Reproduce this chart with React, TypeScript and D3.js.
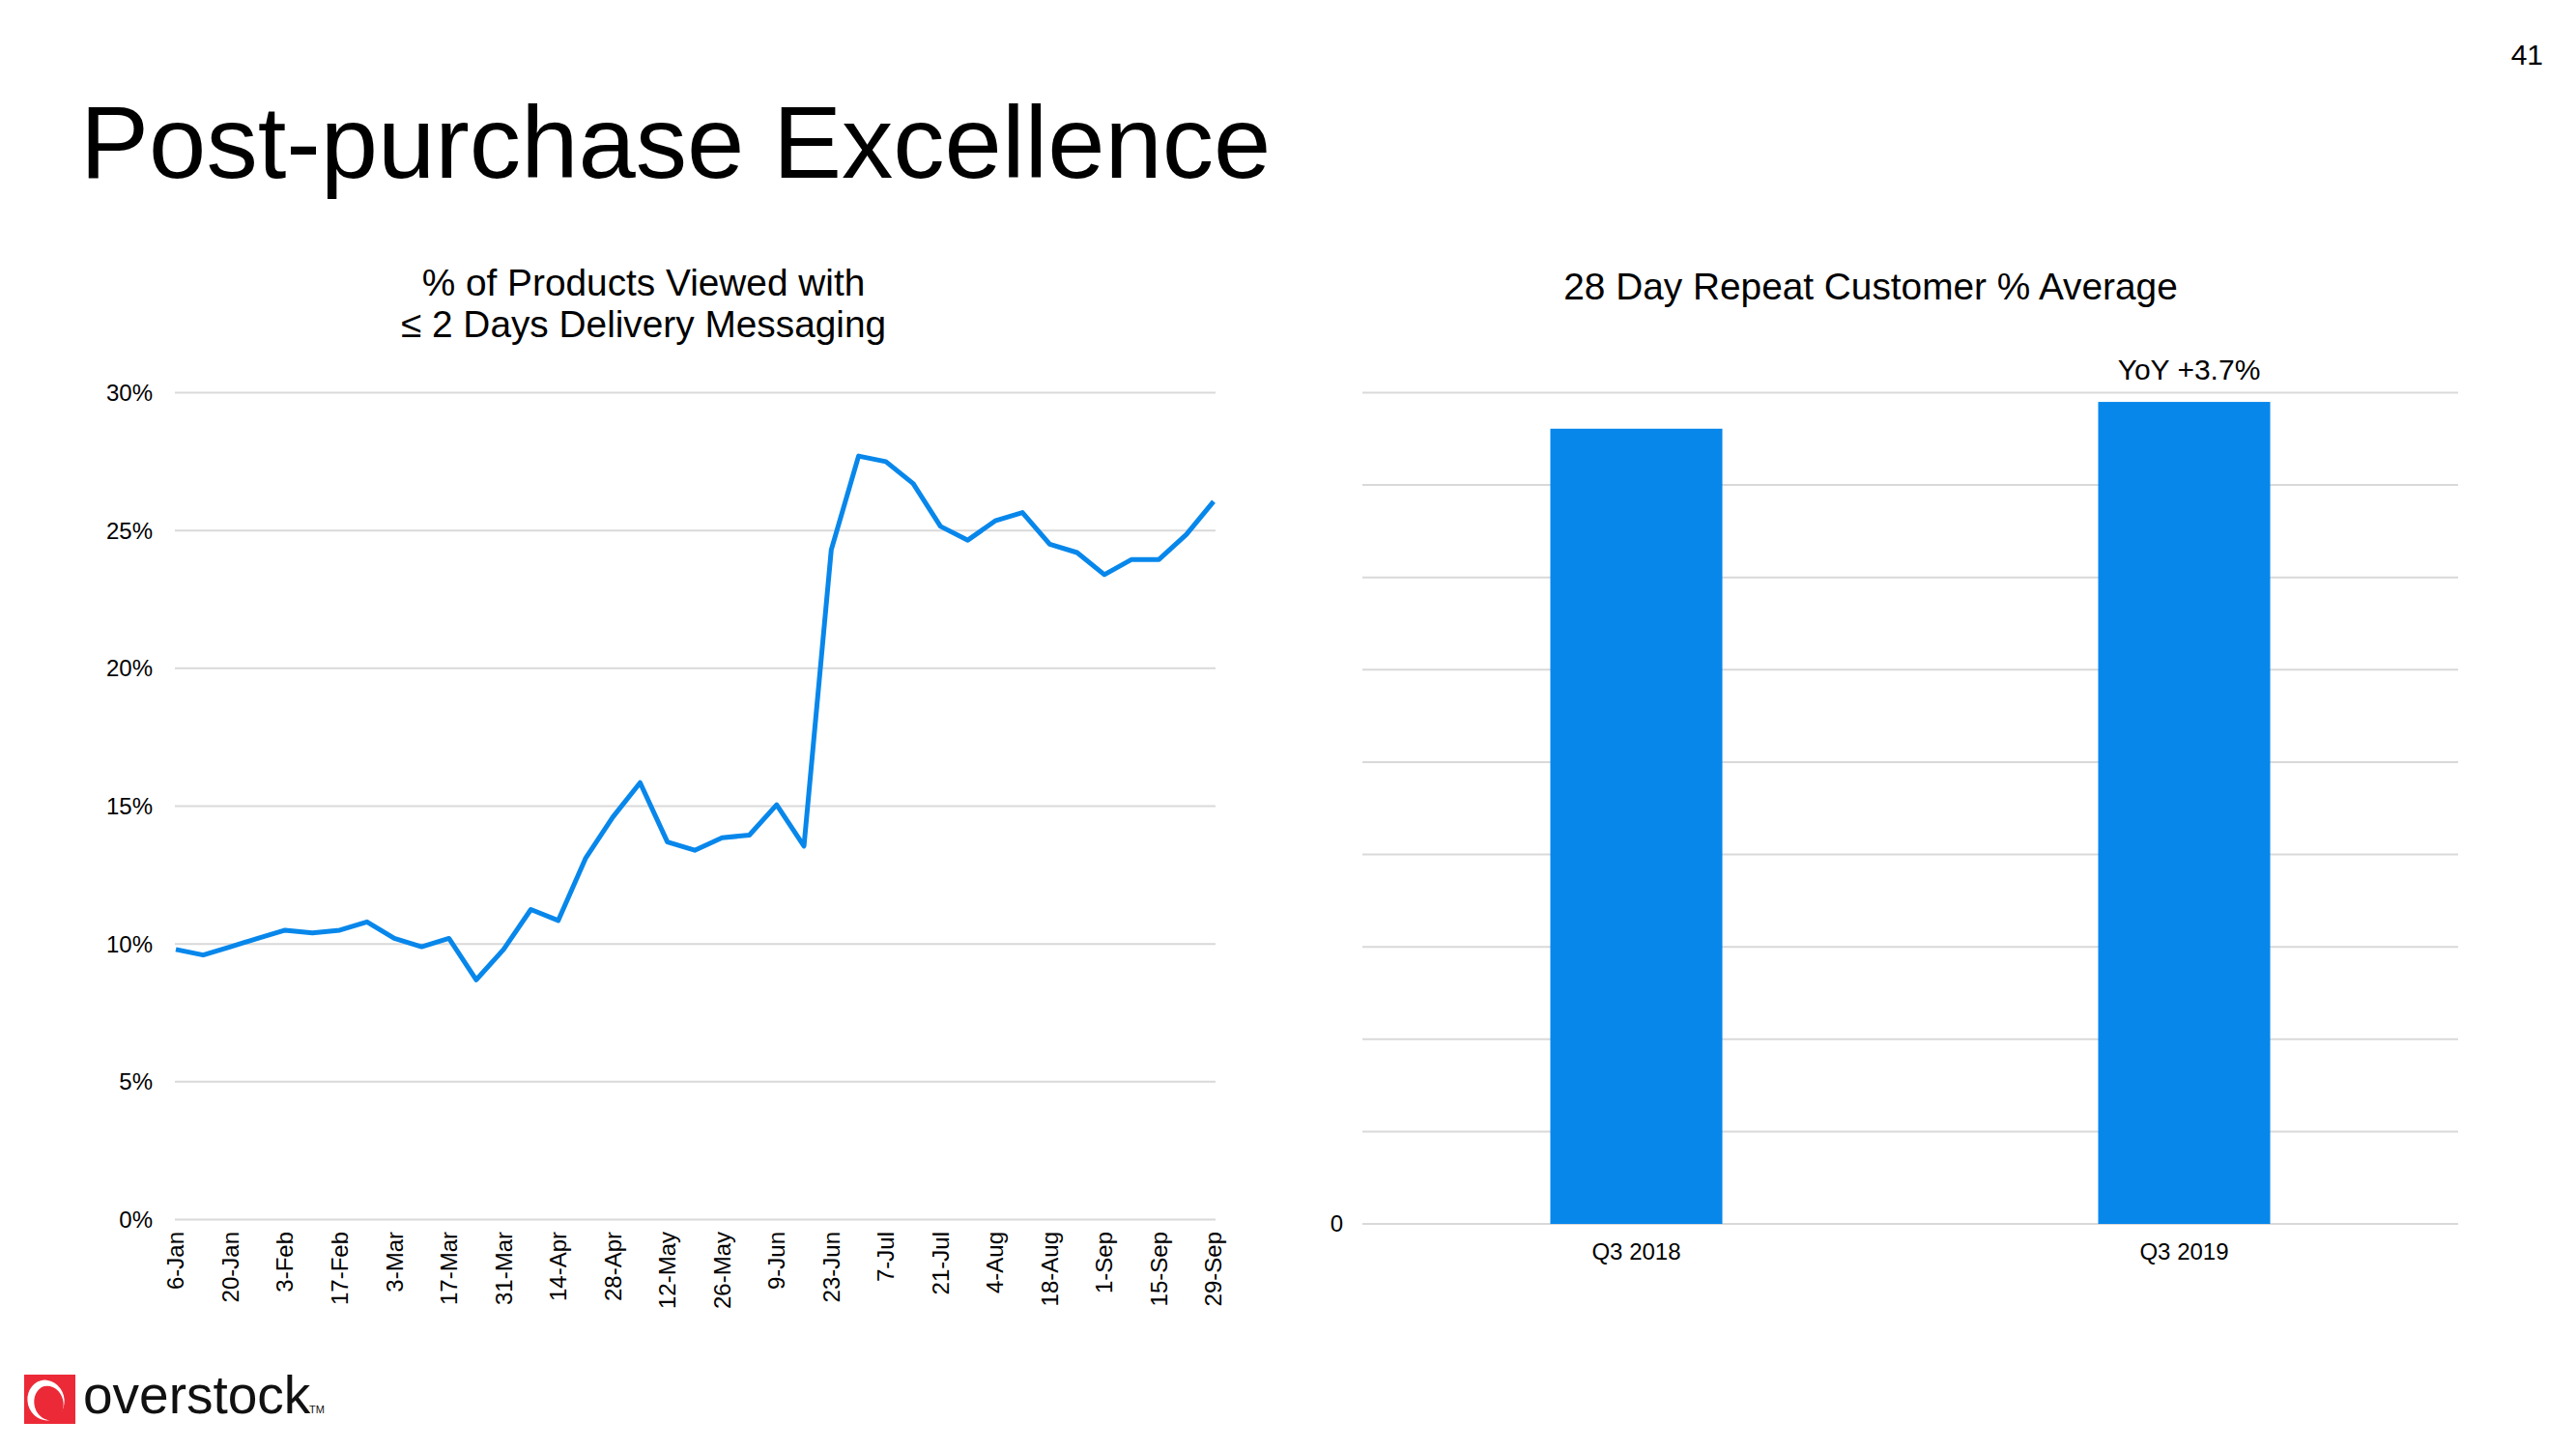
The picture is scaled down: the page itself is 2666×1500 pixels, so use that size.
import React from "react";
import * as d3 from "d3";

// weekly series, % of products viewed with <= 2 days delivery messaging
const weekLabels = [
  "6-Jan", "13-Jan", "20-Jan", "27-Jan",
  "3-Feb", "10-Feb", "17-Feb", "24-Feb",
  "3-Mar", "10-Mar", "17-Mar", "24-Mar", "31-Mar",
  "7-Apr", "14-Apr", "21-Apr", "28-Apr",
  "5-May", "12-May", "19-May", "26-May",
  "2-Jun", "9-Jun", "16-Jun", "23-Jun", "30-Jun",
  "7-Jul", "14-Jul", "21-Jul", "28-Jul",
  "4-Aug", "11-Aug", "18-Aug", "25-Aug",
  "1-Sep", "8-Sep", "15-Sep", "22-Sep", "29-Sep",
];

const deliveryPct = [
  9.8, 9.6, 9.9, 10.2, 10.5, 10.4, 10.5, 10.8, 10.2, 9.9,
  10.2, 8.7, 9.8, 11.25, 10.85, 13.1, 14.6, 15.85, 13.7, 13.4,
  13.85, 13.95, 15.05, 13.55, 24.3, 27.7, 27.5, 26.7, 25.15, 24.65,
  25.35, 25.65, 24.5, 24.2, 23.4, 23.95, 23.95, 24.85, 26.05,
];

// only every second week gets a tick label
const tickLabels = weekLabels.filter((_, i) => i % 2 === 0);
const pctTicks = [0, 5, 10, 15, 20, 25, 30];

// repeat customer bars (axis units hidden in the original, only "0" shown)
const quarters = ["Q3 2018", "Q3 2019"];
const repeatAvg = [8.61, 8.9];
const repeatTicks = [0, 1, 2, 3, 4, 5, 6, 7, 8, 9];
const yoyNote = "YoY +3.7%";

const FONT = "'Liberation Sans', Arial, Helvetica, sans-serif";
const BLUE = "#0887eb";
const GRID = "#d9d9d9";
const RED = "#ec2a37";

const LineChart: React.FC = () => {
  const x = d3
    .scalePoint<string>()
    .domain(weekLabels)
    .range([182, 1256]);
  const y = d3.scaleLinear().domain([0, 30]).range([1262.5, 406.5]);

  const line = d3
    .line<number>()
    .x((_, i) => x(weekLabels[i]) ?? 0)
    .y((d) => y(d));

  return (
    <g>
      <text x={666} y={306} fontSize={38.8} textAnchor="middle">
        % of Products Viewed with
      </text>
      <text x={666} y={349} fontSize={38.8} textAnchor="middle">
        ≤ 2 Days Delivery Messaging
      </text>

      {pctTicks.map((t) => (
        <g key={t}>
          <line x1={181} x2={1258} y1={y(t)} y2={y(t)} stroke={GRID} strokeWidth={2} />
          <text x={158} y={y(t)} dy="0.35em" fontSize={24} textAnchor="end">
            {t}%
          </text>
        </g>
      ))}

      {tickLabels.map((lab) => (
        <text
          key={lab}
          transform={`translate(${x(lab)},1275) rotate(-90)`}
          dy="0.35em"
          fontSize={24}
          textAnchor="end"
        >
          {lab}
        </text>
      ))}

      <path
        d={line(deliveryPct) ?? ""}
        fill="none"
        stroke={BLUE}
        strokeWidth={5}
        strokeLinejoin="round"
      />
    </g>
  );
};

const BarChart: React.FC = () => {
  const x = d3
    .scaleBand<string>()
    .domain(quarters)
    .range([1410, 2544])
    .paddingInner(0.686)
    .paddingOuter(0.343);
  const y = d3.scaleLinear().domain([0, 9]).range([1267, 406.5]);

  return (
    <g>
      <text x={1936} y={310} fontSize={38.8} textAnchor="middle">
        28 Day Repeat Customer % Average
      </text>

      {repeatTicks.map((t) => (
        <line key={t} x1={1410} x2={2544} y1={y(t)} y2={y(t)} stroke={GRID} strokeWidth={2} />
      ))}
      <text x={1390} y={y(0)} dy="0.35em" fontSize={24} textAnchor="end">
        0
      </text>

      {quarters.map((q, i) => (
        <g key={q}>
          <rect
            x={x(q)}
            y={y(repeatAvg[i])}
            width={x.bandwidth()}
            height={y(0) - y(repeatAvg[i])}
            fill={BLUE}
          />
          <text
            x={(x(q) ?? 0) + x.bandwidth() / 2}
            y={1304}
            fontSize={24}
            textAnchor="middle"
          >
            {q}
          </text>
        </g>
      ))}

      <text
        x={(x(quarters[1]) ?? 0) + x.bandwidth() / 2 + 5}
        y={393}
        fontSize={30}
        textAnchor="middle"
      >
        {yoyNote}
      </text>
    </g>
  );
};

const Logo: React.FC = () => (
  <g>
    <rect x={25} y={1423} width={53} height={51} fill={RED} />
    <ellipse cx={47.5} cy={1449.5} rx={19} ry={21} fill="#fff" transform="rotate(-15 47.5 1449.5)" />
    <ellipse cx={50.5} cy={1452.5} rx={15} ry={18} fill={RED} transform="rotate(-15 50.5 1452.5)" />
    <text x={86} y={1463} fontSize={55} fill="#111">
      overstock
    </text>
    <text x={320} y={1463} fontSize={11} fill="#111">
      TM
    </text>
  </g>
);

export default function App() {
  return (
    <svg
      width={2666}
      height={1500}
      style={{ position: "absolute", left: 0, top: 0, background: "#fff" }}
      fontFamily={FONT}
    >
      <rect width={2666} height={1500} fill="#fff" />
      <text x={2632} y={67} fontSize={30} textAnchor="end">
        41
      </text>
      <text x={83} y={184} fontSize={106.6}>
        Post-purchase Excellence
      </text>
      <LineChart />
      <BarChart />
      <Logo />
    </svg>
  );
}
